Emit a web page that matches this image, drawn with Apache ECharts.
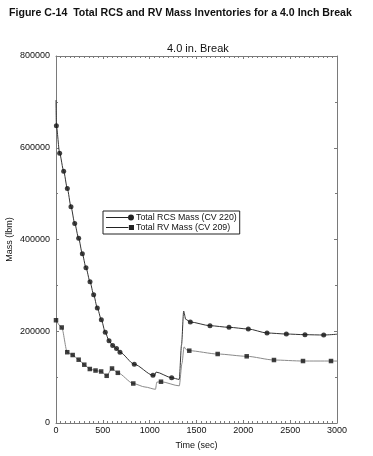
<!DOCTYPE html>
<html>
<head>
<meta charset="utf-8">
<script src="https://cdn.jsdelivr.net/npm/echarts@6/dist/echarts.min.js"></script>
<style>
html,body{margin:0;padding:0;background:#fff;}
#c{width:373px;height:456px;}
</style>
</head>
<body>
<div id="c"></div>
<script>
// ---- Data ----
var chartTitle = 'Figure C-14  Total RCS and RV Mass Inventories for a 4.0 Inch Break';
var subTitle = '4.0 in. Break';
var xName = 'Time (sec)';
var yName = 'Mass (lbm)';
var seriesNames = ['Total RCS Mass (CV 220)', 'Total RV Mass (CV 209)'];

// RCS marker points
var rcsTime = [4, 39, 82, 121, 160, 200, 242, 281, 320, 363, 402, 441, 484, 526, 566, 605, 646, 683, 836, 1035, 1235, 1434, 1644, 1847, 2053, 2253, 2459, 2658, 2858];
var rcsMass = [648000, 588000, 549000, 511000, 471500, 435000, 402500, 369000, 338500, 308000, 279700, 250700, 225200, 197700, 179400, 169000, 162400, 154100, 128000, 104000, 98700, 220200, 212100, 208600, 204900, 196200, 194000, 192500, 191800];
// RCS line-only points
var rcsLineTime = [0, 1050, 1068, 1316, 1340, 1363, 1385, 3000];
var rcsLineMass = [704000, 102500, 111000, 95000, 170000, 244000, 226000, 193500];

// RV marker points
var rvTime = [0, 61, 120, 178, 242, 302, 361, 422, 482, 541, 598, 660, 825, 1121, 1423, 1726, 2036, 2327, 2637, 2936];
var rvMass = [224000, 208200, 154300, 148200, 138000, 127100, 117700, 114400, 112300, 102900, 118800, 109400, 86100, 90000, 157600, 150400, 145400, 137300, 135100, 135100];
// RV line-only points
var rvLineTime = [950, 1062, 1076, 1316, 1345, 1367, 1390, 3000];
var rvLineMass = [78500, 73500, 89000, 81000, 130000, 166000, 160000, 135000];

var xTicks = {min: 0, max: 3000, interval: 500};
var yTicks = {min: 0, max: 800000, interval: 200000};

function pairs(t, v) { return t.map(function (x, i) { return [x, v[i]]; }); }
function merged(t1, v1, t2, v2) {
  return pairs(t1, v1).concat(pairs(t2, v2)).sort(function (a, b) { return a[0] - b[0]; });
}

var chart = echarts.init(document.getElementById('c'), null, {renderer: 'canvas'});
var axisGray = '#7a7a7a';
var txt = '#111';
var font = 'Liberation Sans, Arial, Helvetica, sans-serif';

var rcsIcon = 'path://M0,2.6L22,2.6L22,3.4L0,3.4Z M22,3A3,3 0 1 0 28,3A3,3 0 1 0 22,3Z';
var rvIcon = 'path://M0,2.6L22,2.6L22,3.4L0,3.4Z M22.5,0.5L27.5,0.5L27.5,5.5L22.5,5.5Z';

var option = {
  animation: false,
  backgroundColor: '#fff',
  textStyle: {fontFamily: font},
  title: [
    {text: chartTitle, left: 9, top: 8, padding: 0,
     textStyle: {fontSize: 10.6, fontWeight: 'bold', color: txt, fontFamily: font}},
    {text: subTitle, left: 162, top: 38,
     textStyle: {fontSize: 11, fontWeight: 'normal', color: txt, fontFamily: font}}
  ],
  legend: {
    orient: 'vertical',
    left: 103, top: 211,
    padding: [2, 3, 2, 3],
    itemGap: 1,
    itemWidth: 28, itemHeight: 6,
    borderColor: '#222', borderWidth: 1,
    textStyle: {fontSize: 8.8, color: txt, padding: [0, 0, 0, -3]},
    data: [
      {name: seriesNames[0], icon: rcsIcon, itemStyle: {color: '#222'}},
      {name: seriesNames[1], icon: rvIcon, itemStyle: {color: '#222'}}
    ]
  },
  grid: {left: 56, right: 36, top: 56, bottom: 33, outerBoundsMode: 'none', containLabel: false},
  xAxis: [
    {type: 'value', min: xTicks.min, max: xTicks.max, interval: xTicks.interval,
     name: xName, nameLocation: 'middle', nameGap: 18, nameMoveOverlap: false,
     nameTextStyle: {fontSize: 9, color: txt},
     axisLine: {show: true, onZero: false, lineStyle: {color: axisGray}},
     axisTick: {show: true, inside: true, length: 3, lineStyle: {color: axisGray}},
     minorTick: {show: true, splitNumber: 10, length: 2, lineStyle: {color: axisGray}},
     axisLabel: {fontSize: 9, color: txt, margin: 3, formatter: function (v) { return String(v); }},
     splitLine: {show: false}},
    {type: 'value', position: 'top', min: xTicks.min, max: xTicks.max, interval: xTicks.interval,
     axisLine: {show: true, onZero: false, lineStyle: {color: axisGray}},
     axisTick: {show: true, inside: true, length: 3, lineStyle: {color: axisGray}},
     minorTick: {show: true, splitNumber: 10, length: 2, lineStyle: {color: axisGray}},
     axisLabel: {show: false}, splitLine: {show: false}}
  ],
  yAxis: [
    {type: 'value', min: yTicks.min, max: yTicks.max, interval: yTicks.interval,
     name: yName, nameLocation: 'middle', nameGap: 46, nameMoveOverlap: false,
     nameTextStyle: {fontSize: 9, color: txt, padding: [0, 0, -4, 0]},
     axisLine: {show: true, onZero: false, lineStyle: {color: axisGray}},
     axisTick: {show: true, inside: true, length: 3, lineStyle: {color: axisGray}},
     minorTick: {show: true, splitNumber: 2, length: 2, lineStyle: {color: axisGray}},
     axisLabel: {fontSize: 9, color: txt, margin: 6, formatter: function (v) { return String(v); }},
     splitLine: {show: false}},
    {type: 'value', position: 'right', min: yTicks.min, max: yTicks.max, interval: yTicks.interval,
     axisLine: {show: true, onZero: false, lineStyle: {color: axisGray}},
     axisTick: {show: true, inside: true, length: 3, lineStyle: {color: axisGray}},
     minorTick: {show: true, splitNumber: 2, length: 2, lineStyle: {color: axisGray}},
     axisLabel: {show: false}, splitLine: {show: false}}
  ],
  series: [
    {name: seriesNames[0], type: 'line', xAxisIndex: 0, yAxisIndex: 0,
     data: merged(rcsTime, rcsMass, rcsLineTime, rcsLineMass),
     showSymbol: false, smooth: 0.25, smoothMonotone: 'x',
     lineStyle: {color: '#333', width: 1}, itemStyle: {color: '#222'}, z: 3},
    {name: seriesNames[0] + ' markers', type: 'scatter', xAxisIndex: 0, yAxisIndex: 0,
     data: pairs(rcsTime, rcsMass), symbol: 'circle', symbolSize: 5,
     itemStyle: {color: '#111'}, z: 4},
    {name: seriesNames[1], type: 'line', xAxisIndex: 0, yAxisIndex: 0,
     data: merged(rvTime, rvMass, rvLineTime, rvLineMass),
     showSymbol: false, smooth: 0.25, smoothMonotone: 'x',
     lineStyle: {color: '#8a8a8a', width: 1}, itemStyle: {color: '#222'}, z: 3},
    {name: seriesNames[1] + ' markers', type: 'scatter', xAxisIndex: 0, yAxisIndex: 0,
     data: pairs(rvTime, rvMass), symbol: 'rect', symbolSize: 4.5,
     itemStyle: {color: '#111'}, z: 4}
  ]
};
chart.setOption(option);
</script>
</body>
</html>
